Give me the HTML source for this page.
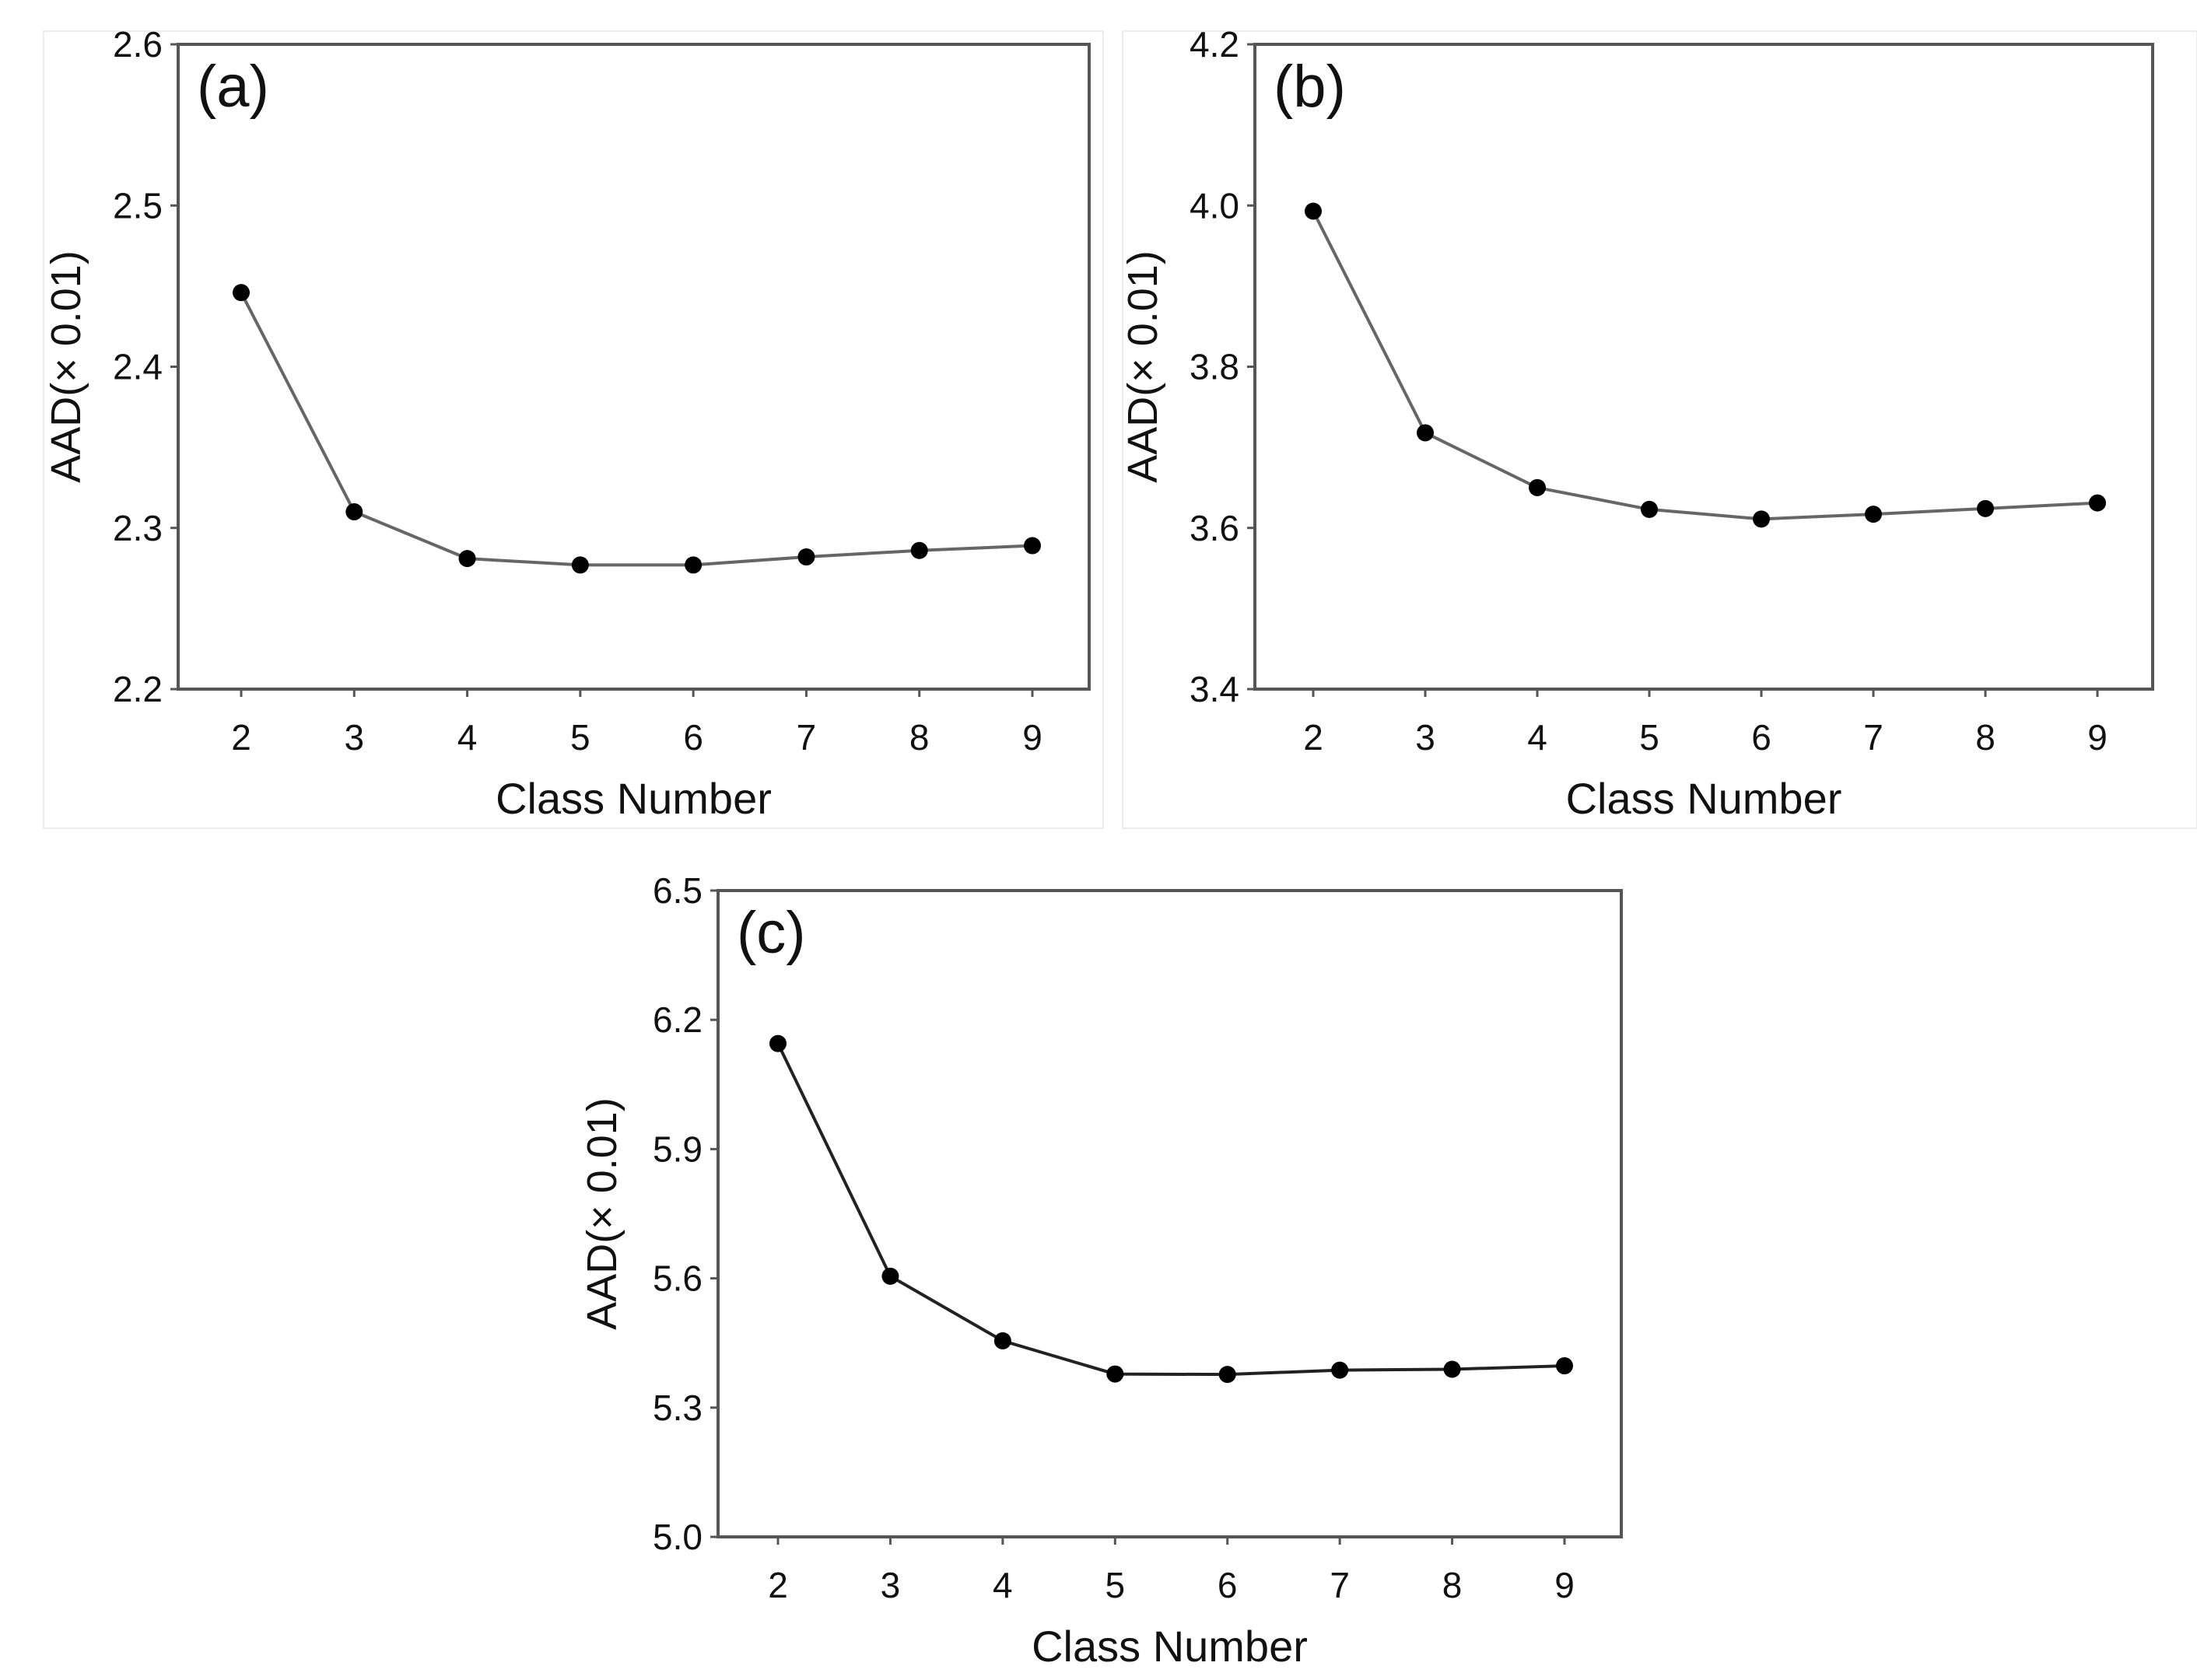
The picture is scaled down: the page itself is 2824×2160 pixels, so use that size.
<!DOCTYPE html>
<html><head><meta charset="utf-8"><style>
html,body{margin:0;padding:0;background:#fff;}
svg{display:block;}
text{font-family:"Liberation Sans Narrow","Liberation Sans",sans-serif;fill:#111;}
</style></head><body>
<svg id="fig" width="2824" height="2160" viewBox="0 0 2824 2160" xmlns="http://www.w3.org/2000/svg">
<rect x="56" y="40" width="1362" height="1025" fill="none" stroke="#ececec" stroke-width="2"/>
<rect x="1443" y="40" width="1381" height="1025" fill="none" stroke="#ececec" stroke-width="2"/>
</svg>
<script>
const categories = [2,3,4,5,6,7,8,9];
const seriesA = [2.446,2.310,2.281,2.277,2.277,2.282,2.286,2.289];
const seriesB = [3.993,3.718,3.650,3.623,3.611,3.617,3.624,3.631];
const seriesC = [6.145,5.605,5.455,5.378,5.377,5.387,5.389,5.397];
const ticksA = [2.2,2.3,2.4,2.5,2.6];
const ticksB = [3.4,3.6,3.8,4.0,4.2];
const ticksC = [5.0,5.3,5.6,5.9,6.2,6.5];
const tickLabelsA = ["2.2","2.3","2.4","2.5","2.6"];
const tickLabelsB = ["3.4","3.6","3.8","4.0","4.2"];
const tickLabelsC = ["5.0","5.3","5.6","5.9","6.2","6.5"];

const NS='http://www.w3.org/2000/svg';
const svg=document.getElementById('fig');
function mk(tag,attrs,parent){const e=document.createElementNS(NS,tag);for(const k in attrs)e.setAttribute(k,attrs[k]);(parent||svg).appendChild(e);return e;}

function panel(id,box,data,ticks,labels,tag,lineColor){
  const g=mk('g',{});
  
  
  const ymin=ticks[0],ymax=ticks[ticks.length-1];
  const xs=v=>box.x2+(v-categories[0])*(box.x9-box.x2)/(categories[categories.length-1]-categories[0]);
  const ys=v=>box.b-(v-ymin)*(box.b-box.t)/(ymax-ymin);
  const fr=mk('rect',{x:box.l,y:box.t,width:box.r-box.l,height:box.b-box.t,fill:'none',stroke:'#555','stroke-width':4},g);
  
  
  ticks.forEach((t,i)=>{
    const y=ys(t);
    const tk=mk('line',{x1:box.l-10,x2:box.l,y1:y,y2:y,stroke:'#555','stroke-width':3},g);
    
    
    const tx=mk('text',{x:box.l-20,y:y+16,'text-anchor':'end','font-size':46},g);
    tx.textContent=labels[i];
    
    
  });
  categories.forEach(c=>{
    const x=xs(c);
    const tk=mk('line',{x1:x,x2:x,y1:box.b,y2:box.b+10,stroke:'#555','stroke-width':3},g);
    
    
    const tx=mk('text',{x:x,y:box.b+78,'text-anchor':'middle','font-size':46},g);
    tx.textContent=String(c);
    
    
  });
  const pts=data.map((v,i)=>xs(categories[i])+','+ys(v)).join(' ');
  const ln=mk('polyline',{points:pts,fill:'none',stroke:lineColor,'stroke-width':4},g);
  
  
  data.forEach((v,i)=>{
    const p=mk('circle',{cx:xs(categories[i]),cy:ys(v),r:11,fill:'#000'},g);
    
    
  });
  const xl=mk('text',{x:(box.l+box.r)/2,y:box.b+160,'text-anchor':'middle','font-size':56},g);
  xl.textContent='Class Number';
  
  
  const yc=(box.t+box.b)/2;
  const yl=mk('text',{x:box.yl,y:yc,'text-anchor':'middle','font-size':54,transform:'rotate(-90 '+box.yl+' '+yc+')'},g);
  yl.textContent='AAD(× 0.01)';
  
  
  const pl=mk('text',{x:box.l+24,y:box.t+80,'font-size':76},g);
  pl.textContent=tag;
  
  
}
panel('a',{l:229,r:1400,t:57,b:886,x2:310,x9:1327,yl:103},seriesA,ticksA,tickLabelsA,'(a)','#666');
panel('b',{l:1613,r:2767,t:57,b:886,x2:1688,x9:2696,yl:1487},seriesB,ticksB,tickLabelsB,'(b)','#666');
panel('c',{l:923,r:2084,t:1145,b:1976,x2:1000,x9:2011,yl:792},seriesC,ticksC,tickLabelsC,'(c)','#222');
</script>
</body></html>
